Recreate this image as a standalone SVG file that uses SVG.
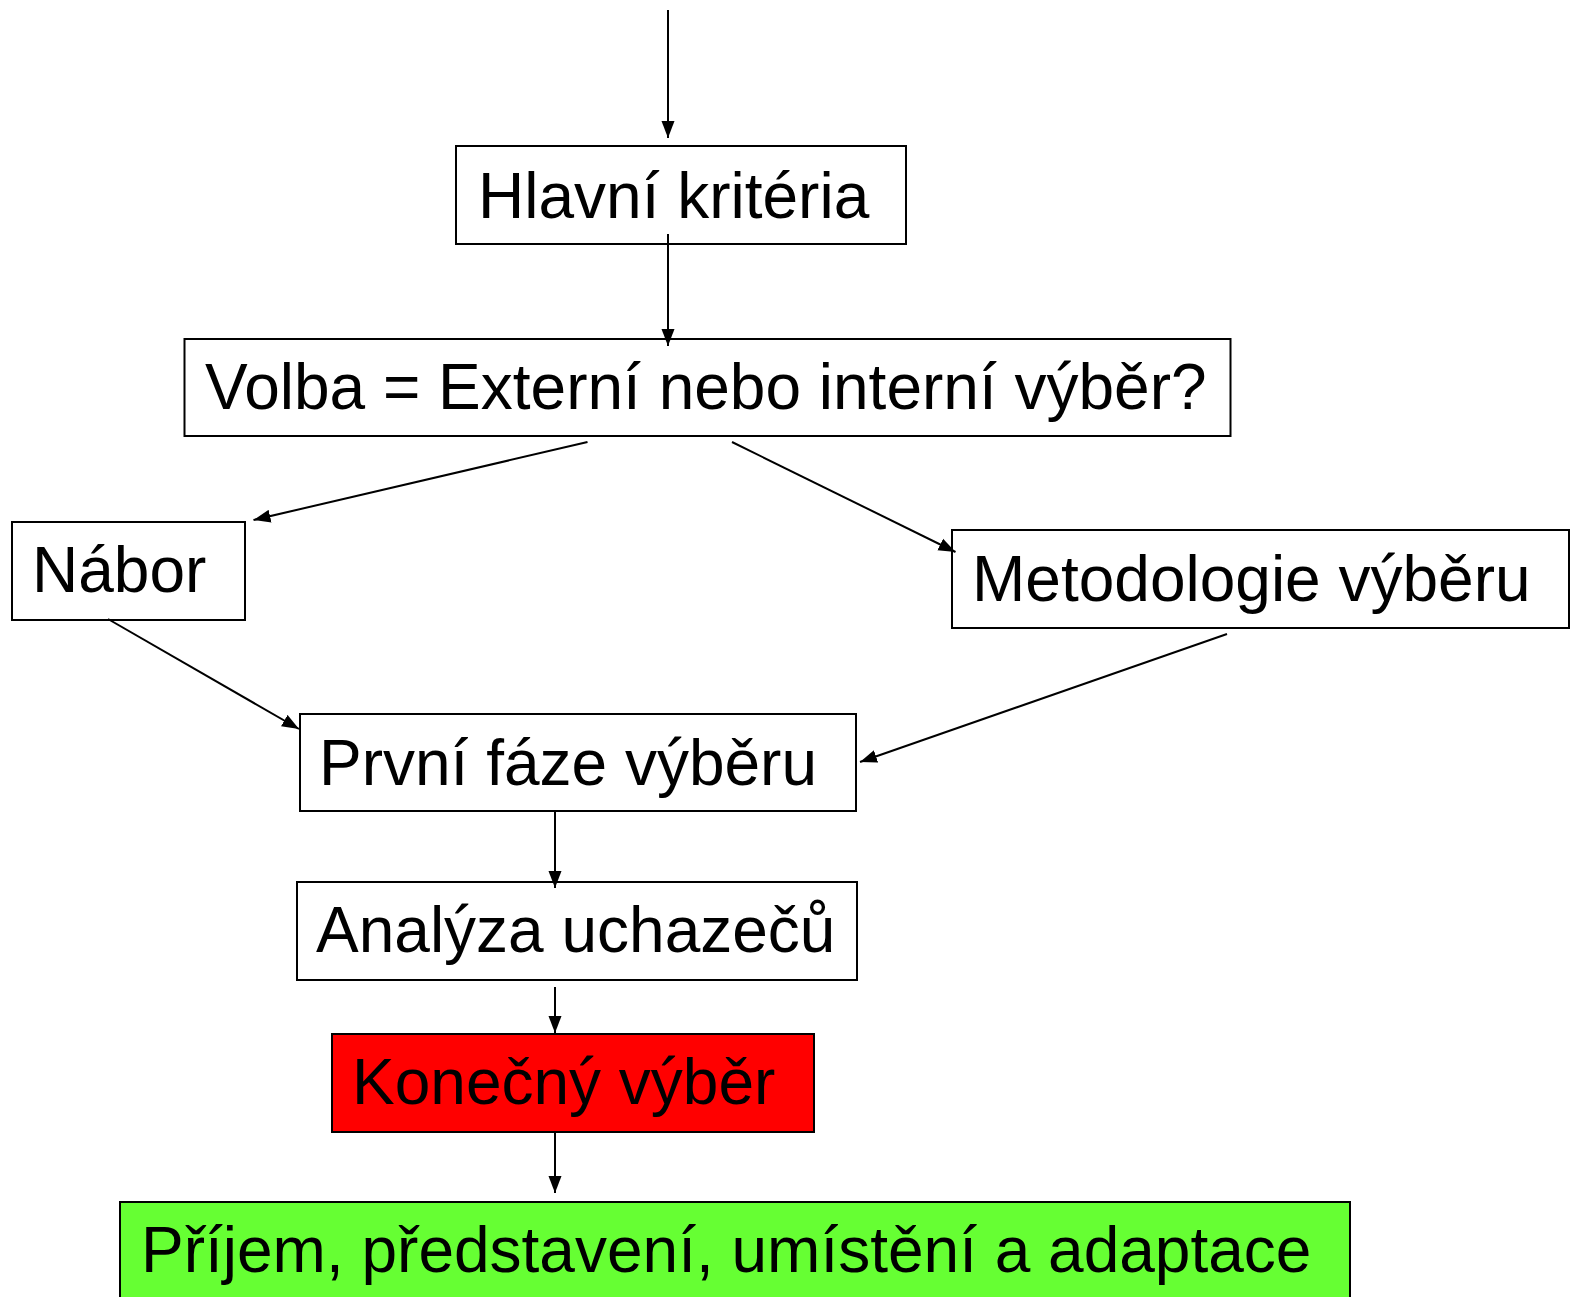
<svg xmlns="http://www.w3.org/2000/svg" width="1572" height="1297" viewBox="0 0 1572 1297">
<style>
.box{fill:#ffffff;stroke:#000000;stroke-width:2}
.lbl{font-family:"Liberation Sans",Arial,sans-serif;font-size:64px;fill:#000000}
.conn{stroke:#000000;stroke-width:2;fill:none;marker-end:url(#arr)}
</style>
<defs>
<marker id="arr" markerUnits="userSpaceOnUse" markerWidth="17" markerHeight="14" viewBox="0 0 17 14" refX="17" refY="7" orient="auto">
<path d="M0,0.5 L17,7 L0,13.5 Z" fill="#000000"/>
</marker>
</defs>
<rect width="1572" height="1297" fill="#ffffff"/>
<g id="n-hlavni">
<rect class="box" x="456" y="146" width="450" height="98"/>
<text class="lbl" x="478" y="218">Hlavní kritéria</text>
</g>
<g id="n-volba">
<rect class="box" x="184.5" y="339" width="1046" height="97"/>
<text class="lbl" x="205" y="409">Volba = Externí nebo interní výběr?</text>
</g>
<g id="n-nabor">
<rect class="box" x="12" y="522" width="233" height="98"/>
<text class="lbl" x="32" y="592">Nábor</text>
</g>
<g id="n-metodologie">
<rect class="box" x="952" y="530" width="617" height="98"/>
<text class="lbl" x="972" y="601">Metodologie výběru</text>
</g>
<g id="n-prvni">
<rect class="box" x="300" y="714" width="556" height="97"/>
<text class="lbl" x="319" y="785">První fáze výběru</text>
</g>
<g id="n-analyza">
<rect class="box" x="297" y="882" width="560" height="98"/>
<text class="lbl" x="316" y="952">Analýza uchazečů</text>
</g>
<g id="n-konecny">
<rect class="box" x="332" y="1034" width="482" height="98" style="fill:#ff0000"/>
<text class="lbl" x="352" y="1104">Konečný výběr</text>
</g>
<g id="n-prijem">
<rect class="box" x="120" y="1202" width="1230" height="110" style="fill:#66ff33"/>
<text class="lbl" x="141" y="1272">Příjem, představení, umístění a adaptace</text>
</g>
<g id="connectors">
<line class="conn" x1="668" y1="10" x2="668" y2="138"/>
<line class="conn" x1="668" y1="234" x2="668" y2="346"/>
<line class="conn" x1="587.5" y1="442" x2="253.5" y2="520"/>
<line class="conn" x1="732" y1="442" x2="955.5" y2="552"/>
<line class="conn" x1="108" y1="619" x2="299" y2="729"/>
<line class="conn" x1="1227" y1="634" x2="860" y2="762"/>
<line class="conn" x1="555" y1="811" x2="555" y2="888"/>
<line class="conn" x1="555" y1="987" x2="555" y2="1033"/>
<line class="conn" x1="555" y1="1132" x2="555" y2="1193"/>
</g>
</svg>
